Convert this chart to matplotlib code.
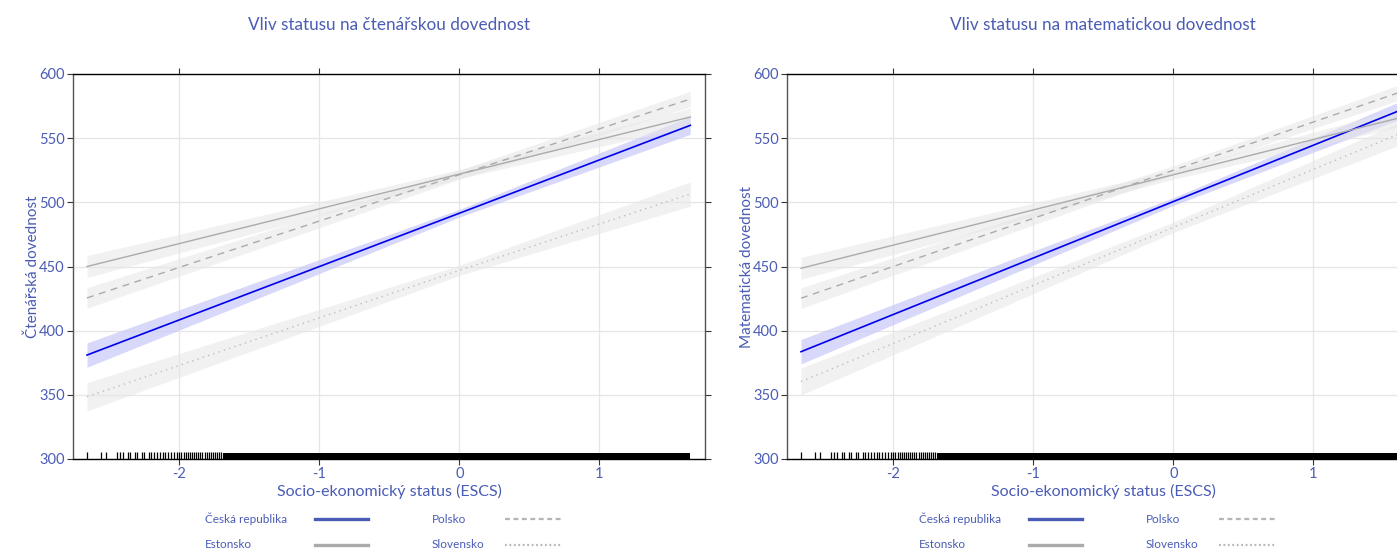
import numpy as np
import matplotlib
matplotlib.use('Agg')
import matplotlib.pyplot as plt
from matplotlib.transforms import blended_transform_factory

plt.rcParams['font.family'] = ['Lato', 'DejaVu Sans']

text_blue = '#4a5cb5'

# ESCS range covered by the fitted lines
x_pts = [-2.66, 0.0, 1.65]

countries = ['Česká republika', 'Estonsko', 'Polsko', 'Slovensko']

# predicted scores at x_pts, and half-width of the confidence band
read_fit = {
    'Česká republika': [381, 491.5, 560],
    'Estonsko': [450, 522, 566.5],
    'Polsko': [425.5, 521.5, 580.5],
    'Slovensko': [348.5, 447, 506.5],
}
read_ci = {
    'Česká republika': [9.5, 3, 7],
    'Estonsko': [8.5, 3.5, 7],
    'Polsko': [8, 3.5, 6],
    'Slovensko': [11, 4, 9.5],
}
math_fit = {
    'Česká republika': [383.6, 500.6, 573],
    'Estonsko': [448.6, 521.5, 566.8],
    'Polsko': [425.3, 525, 587],
    'Slovensko': [360.3, 480.5, 555],
}
math_ci = {
    'Česká republika': [9.5, 3, 7],
    'Estonsko': [8.5, 3.5, 7],
    'Polsko': [8, 3.5, 6],
    'Slovensko': [10.5, 4, 9],
}

# individual student ESCS values in the sparse lower tail (rug)
rug_tail = [-2.657, -2.557, -2.521, -2.443, -2.421, -2.40, -2.37, -2.35, -2.32,
            -2.30, -2.27, -2.25, -2.22, -2.20, -2.18, -2.16, -2.14, -2.12, -2.10,
            -2.08, -2.06, -2.04, -2.02, -2.00, -1.985, -1.97, -1.955, -1.94,
            -1.925, -1.91, -1.895, -1.88, -1.865, -1.85, -1.835, -1.82, -1.805,
            -1.79, -1.775, -1.76, -1.745, -1.73, -1.715, -1.70]
# the rest of the students cover this range densely
rug_dense = [-1.69, 1.65]

line_styles = {
    'Česká republika': dict(color='#0000ee', ls='-', lw=1.2),
    'Estonsko': dict(color='#ababab', ls='-', lw=1.0),
    'Polsko': dict(color='#ababab', ls=(0, (5, 4)), lw=1.0),
    'Slovensko': dict(color='#bdbdbd', ls=(0, (1, 3)), lw=1.0),
}
band_colors = {
    'Česká republika': ('#c8c8f8', 0.7),
    'Estonsko': ('#e6e6e6', 0.55),
    'Polsko': ('#e6e6e6', 0.55),
    'Slovensko': ('#e6e6e6', 0.55),
}
legend_styles = {
    'Česká republika': dict(color=text_blue, ls='-', lw=2.4),
    'Estonsko': dict(color='#ababab', ls='-', lw=2.4),
    'Polsko': dict(color='#b5b5b5', ls=(0, (2.2, 1.6)), lw=1.6),
    'Slovensko': dict(color='#b5b5b5', ls=(0, (0.8, 1.2)), lw=1.6),
}

fig = plt.figure(figsize=(13.97, 5.53), dpi=100)
W, H = 1397, 553
ax_w, ax_h = 632 / W, 385 / H
ax_bottom = 1 - 459 / H
ax1 = fig.add_axes([73 / W, ax_bottom, ax_w, ax_h])
ax2 = fig.add_axes([787 / W, ax_bottom, ax_w, ax_h])


def draw_panel(ax, fit, ci, title, ylabel):
    for c in countries:
        y = np.array(fit[c])
        hw = np.array(ci[c])
        col, a = band_colors[c]
        ax.fill_between(x_pts, y - hw, y + hw, color=col, alpha=a, lw=0, zorder=2)
    for c in countries:
        ax.plot(x_pts, fit[c], zorder=3, **line_styles[c])

    # rug of ESCS values
    tr = blended_transform_factory(ax.transData, ax.transAxes)
    ax.vlines(rug_tail, 0, 0.018, color='black', lw=0.9, transform=tr, zorder=4)
    ax.fill_between(rug_dense, 0, 0.016, color='black', lw=0, transform=tr, zorder=4)

    ax.set_xlim(-2.76, 1.755)
    ax.set_ylim(300, 600)
    ax.set_xticks([-2, -1, 0, 1])
    ax.set_xticklabels(['-2', '-1', '0', '1'])
    ax.set_yticks([300, 350, 400, 450, 500, 550, 600])
    ax.grid(True, color='#e6e6e6', lw=0.9, zorder=0)
    ax.set_axisbelow(True)

    ax.tick_params(axis='both', direction='out', length=4, width=0.8, color='#333333',
                   labelcolor=text_blue, labelsize=10.5, top=True, right=True,
                   pad=2)
    for side in ['top', 'bottom']:
        ax.spines[side].set_color('black')
    for side in ['left', 'right']:
        ax.spines[side].set_color('#555555')
    for s in ax.spines.values():
        s.set_linewidth(1.0)

    ax.set_title(title, color=text_blue, fontsize=12.3, pad=32)
    ax.set_xlabel('Socio-ekonomický status (ESCS)', color=text_blue, fontsize=11.5,
                  labelpad=2)
    ax.set_ylabel(ylabel, color=text_blue, fontsize=11, labelpad=-1)

    # legend below the plot: label first, line sample after it
    rows = [-0.156, -0.223]
    cols = [(0.209, 0.383, 0.467), (0.568, 0.684, 0.774)]
    for i, c in enumerate(countries):
        tx, l0, l1 = cols[i // 2]
        yy = rows[i % 2]
        ax.text(tx, yy, c, transform=ax.transAxes, color=text_blue, fontsize=8.5,
                va='center', ha='left')
        ax.plot([l0, l1], [yy, yy], transform=ax.transAxes, clip_on=False,
                **legend_styles[c])


draw_panel(ax1, read_fit, read_ci, 'Vliv statusu na čtenářskou dovednost',
           'Čtenářská dovednost')
draw_panel(ax2, math_fit, math_ci, 'Vliv statusu na matematickou dovednost',
           'Matematická dovednost')

fig.savefig('out.png', dpi=100)
